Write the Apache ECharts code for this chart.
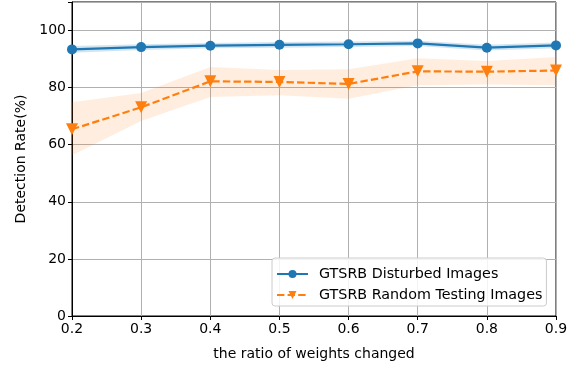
<!DOCTYPE html>
<html><head><meta charset="utf-8">
<script src="https://cdn.jsdelivr.net/npm/echarts@6/dist/echarts.min.js"></script>
<style>html,body{margin:0;padding:0;background:#fff}#c{width:579px;height:368px}</style>
</head><body><div id="c"></div>
<script>
const ratios = [0.2, 0.3, 0.4, 0.5, 0.6, 0.7, 0.8, 0.9];
const disturbed = [93.4, 94.2, 94.7, 95.0, 95.2, 95.5, 94.0, 94.8];
const disturbedLow = [92.2, 93.2, 93.8, 94.0, 94.2, 94.6, 93.0, 93.8];
const disturbedHigh = [94.6, 95.2, 95.6, 96.0, 96.2, 96.4, 95.0, 95.8];
const randomImgs = [65.4, 73.1, 82.2, 82.0, 81.3, 85.7, 85.6, 86.0];
const randomLow = [56.3, 68.3, 76.7, 77.3, 76.1, 80.8, 81.1, 80.8];
const randomHigh = [74.9, 78.1, 87.2, 86.2, 86.4, 90.3, 89.3, 90.7];
const yTicks = [0, 20, 40, 60, 80, 100];

const font = 'DejaVu Sans';
const FS = 14;
const pair = (xs, ys) => xs.map((x, i) => [x, ys[i]]);
const bandData = (lo, hi) => ratios.map((x, i) => [x, lo[i], hi[i]]);

function bandRenderer(lo, hi, color) {
  return function (params, api) {
    const i = params.dataIndex;
    if (i !== 0) return null;
    const pts = [];
    for (let k = 0; k < ratios.length; k++) pts.push(api.coord([ratios[k], hi[k]]));
    for (let k = ratios.length - 1; k >= 0; k--) pts.push(api.coord([ratios[k], lo[k]]));
    return {type: 'polygon', shape: {points: pts}, style: {fill: color}, silent: true};
  };
}

const chart = echarts.init(document.getElementById('c'), null, {renderer: 'canvas'});
chart.setOption({
  animation: false,
  textStyle: {fontFamily: font},
  grid: {left: 72, right: 23, top: 2, bottom: 52, show: true, borderColor: '#000', borderWidth: 1, backgroundColor: 'transparent'},
  xAxis: {
    type: 'value', min: 0.2, max: 0.9, interval: 0.1,
    name: 'the ratio of weights changed', nameLocation: 'middle', nameGap: 31,
    nameTextStyle: {fontSize: FS, color: '#000', fontFamily: font},
    axisLine: {show: true, onZero: false, lineStyle: {color: '#000', width: 1}},
    axisTick: {show: true, length: 4, lineStyle: {color: '#000'}},
    axisLabel: {fontSize: FS, color: '#000', fontFamily: font, margin: 6, formatter: v => v.toFixed(1)},
    splitLine: {show: true, lineStyle: {color: '#b0b0b0', width: 1}}
  },
  yAxis: {
    type: 'value', min: 0, max: 110, interval: 20,
    name: 'Detection Rate(%)', nameLocation: 'middle', nameGap: 44,
    nameTextStyle: {fontSize: FS, color: '#000', fontFamily: font},
    axisLine: {show: true, lineStyle: {color: '#000', width: 1}},
    axisTick: {show: true, length: 4, lineStyle: {color: '#000'}},
    axisLabel: {fontSize: FS, color: '#000', fontFamily: font, margin: 6,
      formatter: v => yTicks.indexOf(v) >= 0 ? String(v) : ''},
    splitLine: {show: true, lineStyle: {color: '#b0b0b0', width: 1}}
  },
  legend: {
    left: 272, top: 258, orient: 'vertical', itemGap: 7,
    itemWidth: 31, itemHeight: 10,
    padding: [9, 4, 4, 4],
    backgroundColor: 'rgba(255,255,255,0.85)', borderColor: '#cccccc', borderWidth: 1, borderRadius: 3,
    textStyle: {fontSize: 14.3, color: '#000', fontFamily: font, padding: [0, 0, 0, 6]},
    data: ['GTSRB Disturbed Images', 'GTSRB Random Testing Images']
  },
  series: [
    {type: 'custom', name: 'rBand', data: bandData(randomLow, randomHigh), renderItem: bandRenderer(randomLow, randomHigh, 'rgba(255,127,14,0.13)'), silent: true, z: 1},
    {type: 'custom', name: 'dBand', data: bandData(disturbedLow, disturbedHigh), renderItem: bandRenderer(disturbedLow, disturbedHigh, 'rgba(31,119,180,0.2)'), silent: true, z: 1},
    {type: 'line', name: 'GTSRB Disturbed Images', data: pair(ratios, disturbed),
      color: '#1f77b4', symbol: 'circle', symbolSize: 10, showAllSymbol: true,
      lineStyle: {color: '#1f77b4', width: 2.2}, itemStyle: {color: '#1f77b4'}, z: 5},
    {type: 'line', name: 'GTSRB Random Testing Images', data: pair(ratios, randomImgs),
      color: '#ff7f0e', symbol: 'triangle', symbolRotate: 180, symbolSize: 12, showAllSymbol: true,
      lineStyle: {color: '#ff7f0e', width: 2.2, type: [7.4, 3.2]}, itemStyle: {color: '#ff7f0e'}, z: 5}
  ]
});
</script></body></html>
